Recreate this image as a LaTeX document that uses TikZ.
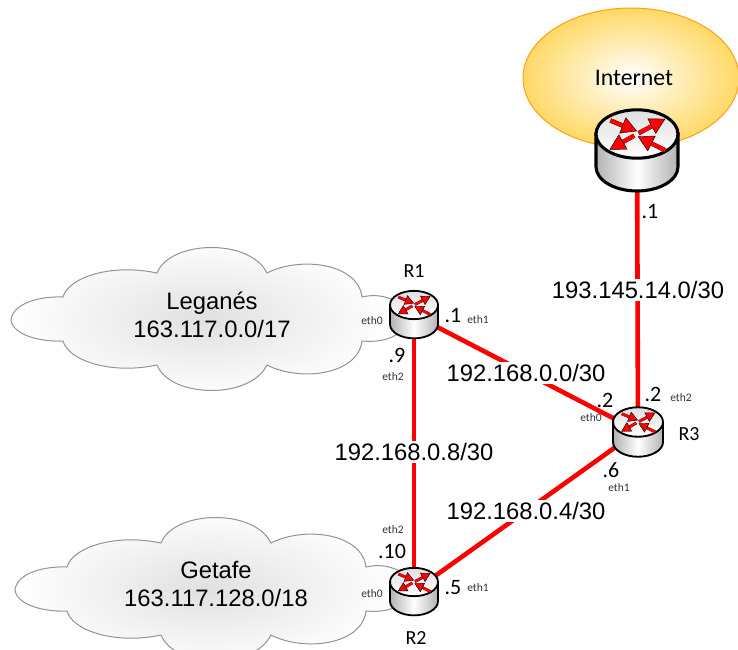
\documentclass[tikz,border=0pt]{standalone}
\usepackage{fontspec}
\setmainfont{Carlito}
\newfontfamily\netfont{Liberation Sans}
\usetikzlibrary{arrows.meta}
\definecolor{linkred}{RGB}{255,0,0}
\definecolor{netyellow}{RGB}{255,217,102}
\definecolor{netorange}{RGB}{255,160,20}
\tikzset{
    link/.style={linkred,line width=4.6pt},
    hub/.style={circle,inner sep=0pt,minimum size=6pt},
    netlabel/.style={font=\netfont\fontsize{23.8}{28.5}\selectfont,inner sep=0pt,align=center},
    subnet/.style={netlabel,fill=white,inner ysep=2pt,inner xsep=1pt},
    iface/.style={font=\fontsize{22}{24}\selectfont,inner sep=0pt},
    rname/.style={font=\fontsize{20}{22}\selectfont,inner sep=0pt},
    eth/.style={font=\fontsize{11.5}{13}\selectfont,text=black!80,inner sep=0pt},
    router/.pic={
        \def\rx{#1}
        \draw[line width=\rx*0.075pt,left color=gray!60,right color=gray!60,middle color=white]
            (-\rx,0)--(-\rx,0.8*\rx) arc[start angle=180,end angle=0,x radius=\rx,y radius=0.59*\rx]--(\rx,0)--cycle;
        \draw[line width=\rx*0.075pt,top color=gray!25,bottom color=white] (0,0) ellipse[x radius=\rx,y radius=0.59*\rx];
        \foreach \ax/\ay/\bx/\by in {-0.65/-0.33/-0.1/-0.1,0.04/-0.02/0.6/-0.32,0.69/0.40/0.13/0.12,-0.07/0.04/-0.58/0.33}{
            \draw[black,line width=\rx*0.1pt+0.3pt] (\ax*\rx,\ay*\rx)--(\bx*\rx,\by*\rx);
        }
        \foreach \ax/\ay/\bx/\by in {-0.65/-0.33/0.0/-0.07,0.04/-0.02/0.69/-0.37,0.69/0.40/0.02/0.06,-0.07/0.04/-0.67/0.38}{
            \draw[linkred,line width=\rx*0.1pt,-{Triangle[length=\rx*0.38pt,width=\rx*0.42pt,fill=linkred,color=black,line width=0.4pt]}]
                (\ax*\rx,\ay*\rx)--(\bx*\rx,\by*\rx);
        }
    },
    cloud/.pic={
        \draw[gray!85,line width=1pt,inner color=gray!24,outer color=white]
            (11,2) .. controls (13,-15) and (40,-22) .. (63,-21)
            .. controls (68,-40) and (110,-55) .. (157,-45)
            .. controls (170,-78) and (250,-80) .. (267,-45)
            .. controls (300,-62) and (358,-55) .. (362,-21)
            .. controls (375,-24) and (385,-22) .. (396,-17)
            -- (396,17)
            .. controls (385,23) and (375,24) .. (362,23)
            .. controls (358,57) and (300,64) .. (267,47)
            .. controls (250,82) and (170,80) .. (157,47)
            .. controls (110,57) and (68,42) .. (63,23)
            .. controls (40,24) and (13,17) .. (11,2) -- cycle;
    }
}
\begin{document}
\begin{tikzpicture}[x=1pt,y=-1pt]
    \useasboundingbox (0,0) rectangle (738,649);
    \draw[netorange,line width=1pt,inner color=white,outer color=netyellow] (631,78) ellipse[x radius=108,y radius=70];
    \pic at (0,318) {cloud};
    \pic at (4,588) {cloud};
    \node[hub] (R0) at (637,134) {};
    \node[hub] (R1) at (414,315) {};
    \node[hub] (R2) at (414,591) {};
    \node[hub] (R3) at (638,431) {};
    \draw[link] (R0)--(R3);
    \draw[link] (R1)--(R3);
    \draw[link] (R1)--(R2);
    \draw[link] (R2)--(R3);
    \pic at (637,134) {router=41};
    \pic at (414,305) {router=24};
    \pic at (414,582) {router=24};
    \pic at (638,422) {router=25};
    \foreach \n/\x/\y/\t in {sA/638/290/{193.145.14.0/30},sB/526/373/{192.168.0.0/30},sC/414/452/{192.168.0.8/30},sD/526/511/{192.168.0.4/30}}{
        \node[subnet] (\n) at (\x,\y) {\t};
    }
    \node[netlabel] (leganes) at (212,315) {Leganés\\163.117.0.0/17};
    \node[netlabel] (getafe) at (216,584) {Getafe\\163.117.128.0/18};
    \node[font=\fontsize{23.8}{26}\selectfont,inner sep=0pt] (internet) at (634,78) {Internet};
    \foreach \n/\x/\y/\t in {iA/650/211/.1,iB/453/315/.1,iC/397/355/.9,iD/605/400/.2,iE/653/394/.2,iF/611/470/.6,iG/392/551/.10,iH/453/588/.5}{
        \node[iface] (\n) at (\x,\y) {\t};
    }
    \foreach \n/\x/\y/\t in {nA/414/271/R1,nB/689/434/R3,nC/416/638/R2}{
        \node[rname] (\n) at (\x,\y) {\t};
    }
    \foreach \n/\x/\y/\t in {eA/478/320/eth1,eB/372/321/eth0,eC/393/377/eth2,eD/681/398/eth2,eE/591/418/eth0,eF/619/488/eth1,eG/393/530/eth2,eH/478/588/eth1,eI/372/594/eth0}{
        \node[eth] (\n) at (\x,\y) {\t};
    }
\end{tikzpicture}
\end{document}
